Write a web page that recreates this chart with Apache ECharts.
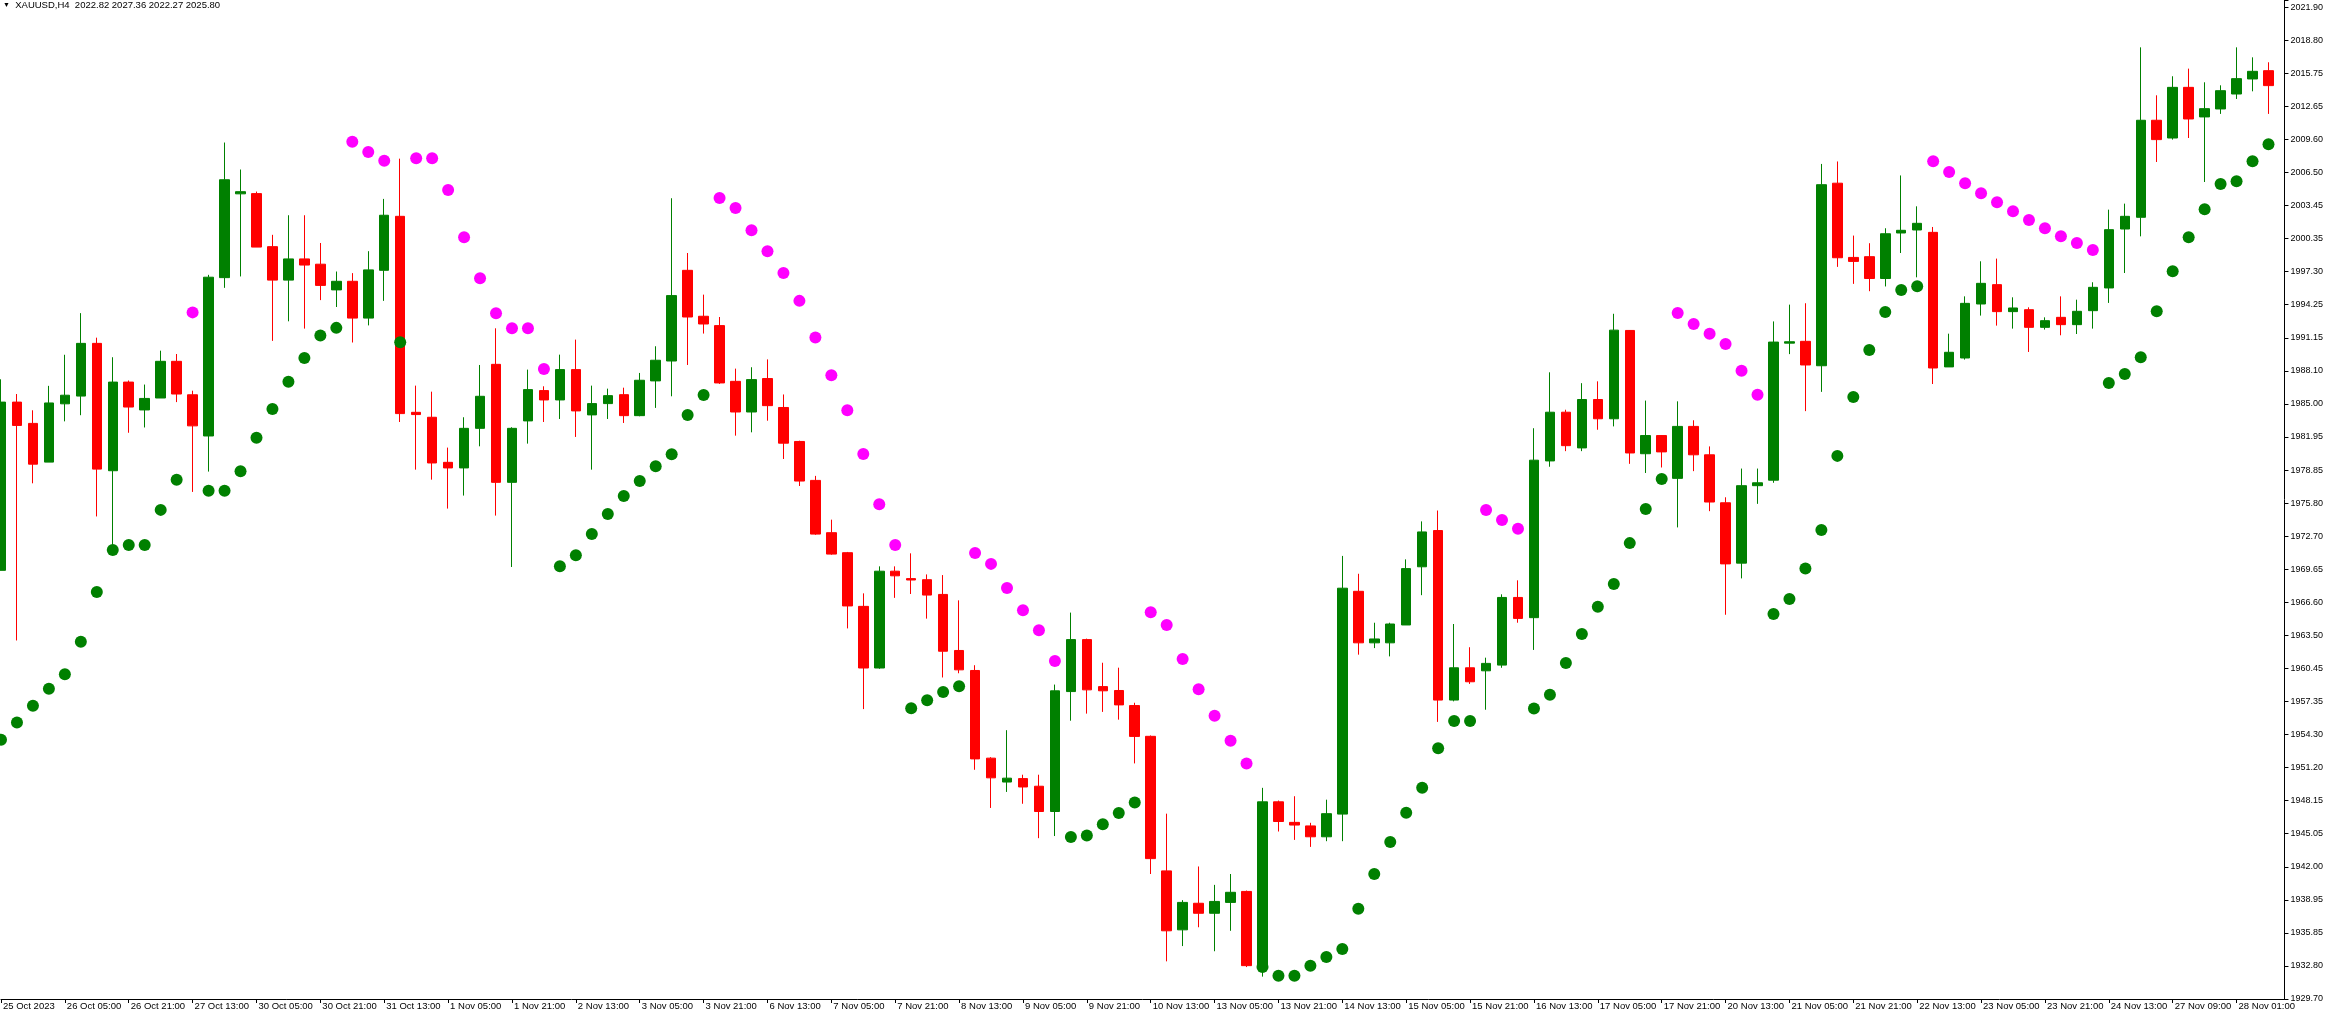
<!DOCTYPE html>
<html><head><meta charset="utf-8">
<script src="https://cdn.jsdelivr.net/npm/echarts/dist/echarts.min.js"></script>
<style>html,body{margin:0;padding:0;background:#fff;overflow:hidden}#c{width:2326px;height:1012px}</style>
</head><body><div id="c"></div>
<script>
const _ = null;
const titleText = 'XAUUSD,H4  2022.82 2027.36 2022.27 2025.80';
const xLabels = ['25 Oct 2023','26 Oct 05:00','26 Oct 21:00','27 Oct 13:00','30 Oct 05:00','30 Oct 21:00','31 Oct 13:00','1 Nov 05:00','1 Nov 21:00','2 Nov 13:00','3 Nov 05:00','3 Nov 21:00','6 Nov 13:00','7 Nov 05:00','7 Nov 21:00','8 Nov 13:00','9 Nov 05:00','9 Nov 21:00','10 Nov 13:00','13 Nov 05:00','13 Nov 21:00','14 Nov 13:00','15 Nov 05:00','15 Nov 21:00','16 Nov 13:00','17 Nov 05:00','17 Nov 21:00','20 Nov 13:00','21 Nov 05:00','21 Nov 21:00','22 Nov 13:00','23 Nov 05:00','23 Nov 21:00','24 Nov 13:00','27 Nov 09:00','28 Nov 01:00'];
const yTickLabels = ['1929.70','1932.80','1935.85','1938.95','1942.00','1945.05','1948.15','1951.20','1954.30','1957.35','1960.45','1963.50','1966.60','1969.65','1972.70','1975.80','1978.85','1981.95','1985.00','1988.10','1991.15','1994.25','1997.30','2000.35','2003.45','2006.50','2009.60','2012.65','2015.75','2018.80','2021.90'];

const openP = [1969.55,1985.19,1983.21,1979.61,1985.03,1985.75,1990.65,1978.81,1987.05,1984.46,
1985.57,1988.98,1985.87,1982.04,1996.76,2004.55,2004.57,1999.64,1996.53,1998.50,
1998.01,1995.62,1996.42,1993.00,1997.44,2002.46,1984.24,1983.78,1979.59,1979.07,
1982.75,1988.70,1977.73,1983.44,1986.26,1985.39,1988.21,1984.00,1985.05,1985.88,
1983.93,1987.16,1989.01,1997.44,1993.17,1992.30,1987.12,1984.27,1987.38,1984.69,
1981.53,1977.91,1973.05,1971.19,1966.20,1960.47,1969.47,1968.78,1968.68,1967.31,
1962.10,1960.24,1952.09,1949.87,1950.19,1949.48,1947.13,1958.28,1963.11,1958.74,
1958.38,1956.98,1954.12,1941.61,1936.13,1938.60,1937.67,1938.68,1939.70,1932.59,
1948.03,1946.12,1945.79,1944.78,1946.89,1967.60,1962.81,1962.81,1964.47,1969.88,
1973.25,1957.49,1960.49,1960.21,1960.74,1967.03,1965.15,1979.72,1984.25,1980.93,
1985.43,1983.64,1991.85,1980.39,1982.08,1978.10,1982.93,1980.29,1975.83,1970.22,
1977.42,1977.93,1990.67,1990.84,1988.57,2005.54,1998.64,1998.71,1996.68,2000.91,
2001.19,2000.97,1988.46,1989.29,1994.31,1996.11,1993.60,1993.78,1992.14,1993.07,
1992.39,1993.69,1995.80,2001.28,2002.37,2011.39,2009.74,2014.45,2011.70,2012.44,
2013.83,2015.23,2016.00];

const highP = [1987.31,1985.94,1984.43,1986.70,1989.59,1993.46,1991.18,1989.36,1987.20,1986.82,
1989.97,1989.66,1986.25,1997.02,2009.32,2006.81,2004.76,2000.74,2002.56,2002.56,
1999.98,1997.33,1997.18,1999.22,2004.08,2007.82,1986.72,1986.16,1980.96,1983.78,
1988.64,1992.05,1982.85,1988.21,1986.66,1989.60,1991.00,1986.72,1986.44,1986.53,
1987.90,1990.38,2004.14,1999.05,1995.18,1993.10,1988.30,1988.43,1989.16,1985.90,
1981.60,1978.33,1974.26,1971.26,1967.41,1969.92,1969.92,1971.13,1969.17,1969.11,
1966.76,1960.73,1952.18,1954.69,1950.55,1950.55,1958.93,1965.62,1963.20,1960.96,
1960.50,1957.24,1954.20,1946.93,1938.89,1942.02,1940.31,1941.32,1939.78,1949.33,
1948.15,1948.55,1946.08,1948.23,1970.89,1969.23,1964.68,1964.68,1970.57,1974.10,
1975.11,1964.56,1962.40,1961.43,1967.32,1968.62,1982.76,1987.96,1984.48,1986.95,
1987.12,1993.40,1991.88,1985.33,1982.10,1985.26,1983.50,1981.07,1976.34,1979.01,
1979.01,1992.69,1994.25,1994.38,2007.33,2007.56,2000.67,1999.96,2001.35,2006.26,
2003.39,2001.47,1991.55,1995.02,1998.28,1998.53,1994.93,1994.00,1993.07,1995.02,
1994.71,1996.33,2003.08,2003.64,2018.17,2013.71,2015.48,2016.19,2014.92,2014.64,
2018.17,2017.24,2016.78];

const lowP = [1969.55,1963.03,1977.64,1979.61,1983.40,1983.97,1974.56,1971.83,1982.34,1982.83,
1985.57,1985.19,1976.84,1978.73,1995.81,1996.87,1999.60,1990.88,1992.70,1992.02,
1994.67,1994.03,1990.73,1992.32,1994.60,1983.34,1978.91,1977.98,1975.29,1976.50,
1981.08,1974.64,1969.86,1981.33,1983.34,1983.62,1981.95,1978.91,1983.62,1983.25,
1983.87,1984.65,1985.73,1988.64,1991.56,1986.88,1982.07,1982.38,1983.46,1979.90,
1977.39,1972.85,1971.00,1964.15,1956.65,1960.40,1966.99,1967.35,1965.06,1959.59,
1959.98,1951.01,1947.46,1948.95,1947.85,1944.65,1944.85,1955.57,1956.23,1956.39,
1955.67,1951.60,1941.32,1933.20,1934.62,1936.37,1934.14,1936.04,1932.67,1931.78,
1945.27,1944.49,1943.84,1944.37,1944.37,1961.71,1962.32,1961.55,1964.47,1967.24,
1955.46,1957.37,1958.99,1956.59,1960.49,1964.68,1962.15,1979.18,1980.63,1980.63,
1982.62,1982.93,1979.45,1978.60,1979.11,1973.54,1978.77,1975.05,1965.42,1968.80,
1975.73,1977.69,1989.65,1984.35,1986.14,1997.76,1996.18,1995.50,1995.94,1999.05,
1996.79,1986.87,1988.46,1989.14,1993.23,1992.30,1992.02,1989.85,1991.93,1991.40,
1991.52,1992.02,1994.41,1997.19,2000.60,2007.51,2009.59,2009.74,2005.65,2011.98,
2013.37,2014.08,2011.98];

const closeP = [1985.19,1983.02,1979.42,1985.11,1985.83,1990.65,1978.96,1987.05,1984.73,1985.53,
1988.98,1985.94,1982.98,1996.80,2005.86,2004.75,1999.60,1996.53,1998.50,1997.93,
1996.04,1996.42,1993.00,1997.48,2002.56,1984.12,1984.03,1979.53,1979.07,1982.75,
1985.73,1977.73,1982.75,1986.35,1985.39,1988.21,1984.37,1985.05,1985.79,1983.93,
1987.22,1989.08,1995.09,1993.10,1992.45,1986.97,1984.27,1987.28,1984.86,1981.37,
1977.85,1972.92,1971.06,1966.24,1960.47,1969.47,1969.04,1968.65,1967.25,1962.03,
1960.30,1952.02,1950.26,1950.23,1949.41,1947.13,1958.35,1963.11,1958.44,1958.35,
1957.04,1954.11,1942.75,1936.04,1938.68,1937.67,1938.77,1939.62,1932.80,1948.03,
1946.20,1945.87,1944.78,1946.93,1967.89,1962.81,1963.17,1964.56,1969.71,1973.12,
1957.49,1960.49,1959.19,1960.90,1967.03,1965.08,1979.79,1984.25,1981.14,1985.43,
1983.64,1991.88,1980.46,1982.08,1980.56,1982.93,1980.29,1975.90,1970.15,1977.42,
1977.69,1990.77,1990.80,1988.64,2005.40,1998.61,1998.27,1996.68,2000.84,2001.16,
2001.81,1988.36,1989.82,1994.37,1996.23,1993.60,1993.94,1992.14,1992.76,1992.39,
1993.63,1995.86,2001.22,2002.46,2011.39,2009.59,2014.45,2011.51,2012.47,2014.14,
2015.26,2015.94,2014.61];

// Parabolic SAR below price (green)
const sarBelow = [1953.81,1955.40,1956.96,1958.55,1959.88,1962.91,1967.54,1971.45,1971.90,1971.90,
1975.17,1977.98,_,1976.95,1976.95,1978.77,1981.88,1984.54,1987.08,1989.28,
1991.37,1992.09,_,_,_,1990.75,_,_,_,_,
_,_,_,_,_,1969.92,1970.95,1972.93,1974.79,1976.46,
1977.86,1979.22,1980.34,1983.99,1985.85,_,_,_,_,_,
_,_,_,_,_,_,_,1956.72,1957.47,1958.25,
1958.77,_,_,_,_,_,_,1944.75,1944.91,1945.95,
1947.00,1947.97,_,_,_,_,_,_,_,1932.67,
1931.86,1931.86,1932.80,1933.61,1934.34,1938.08,1941.33,1944.29,1947.01,1949.33,
1953.02,1955.54,1955.54,_,_,_,1956.70,1957.99,1960.93,1963.63,
1966.17,1968.29,1972.08,1975.26,1978.03,_,_,_,_,_,
_,1965.49,1966.88,1969.72,1973.30,1980.19,1985.67,1990.03,1993.57,1995.62,
1995.95,_,_,_,_,_,_,_,_,_,
_,_,1986.97,1987.80,1989.35,1993.63,1997.35,2000.51,2003.11,2005.47,
2005.72,2007.57,2009.16];

// Parabolic SAR above price (magenta)
const sarAbove = [_,_,_,_,_,_,_,_,_,_,
_,_,1993.53,_,_,_,_,_,_,_,
_,_,2009.39,2008.44,2007.62,_,2007.85,2007.85,2004.91,2000.51,
1996.70,1993.45,1992.05,1992.05,1988.27,_,_,_,_,_,
_,_,_,_,_,2004.17,2003.24,2001.16,1999.21,1997.20,
1994.60,1991.20,1987.69,1984.43,1980.36,1975.69,1971.91,_,_,_,
_,1971.16,1970.15,1967.90,1965.85,1963.99,1961.12,_,_,_,
_,_,1965.66,1964.47,1961.31,1958.50,1956.03,1953.71,1951.60,_,
_,_,_,_,_,_,_,_,_,_,
_,_,_,1975.16,1974.22,1973.42,_,_,_,_,
_,_,_,_,_,1993.47,1992.46,1991.55,1990.60,1988.10,
1985.87,_,_,_,_,_,_,_,_,_,
_,2007.57,2006.58,2005.53,2004.60,2003.76,2002.93,2002.12,2001.35,2000.60,
1999.98,1999.33,_,_,_,_,_,_,_,_,
_,_,_];

const FONT = '"Liberation Sans", Arial, sans-serif';
const N = openP.length;
const cats = [];
for (let i = 0; i <= N; i++) cats.push('c' + i);
const candles = openP.map((o, i) => [o, closeP[i], lowP[i], highP[i]]);
const toPts = arr => arr.map((v, i) => (v == null ? null : [i, v])).filter(p => p);

const Y_MIN = parseFloat(yTickLabels[0]);
const Y_STEP = (parseFloat(yTickLabels[yTickLabels.length - 1]) - Y_MIN) / (yTickLabels.length - 1);
const PX_PER_UNIT = 10.757;
const GRID_H = 999;
const Y_MAX = Y_MIN + GRID_H / PX_PER_UNIT;

const chart = echarts.init(document.getElementById('c'), null, {renderer: 'canvas', width: 2326, height: 1012});
chart.setOption({
  animation: false,
  backgroundColor: '#ffffff',
  title: {
    left: 3, top: 0, padding: 0,
    text: '{tri|▼}  ' + titleText,
    textStyle: {fontSize: 9.5, fontWeight: 'normal', color: '#000', fontFamily: FONT,
      rich: {tri: {fontSize: 7, color: '#000', fontFamily: FONT}}}
  },
  grid: {left: 0, right: 40, top: 0, bottom: 1012 - GRID_H, containLabel: false},
  xAxis: {
    type: 'category', data: cats, boundaryGap: false,
    axisLine: {show: true, lineStyle: {color: '#000', width: 1}},
    axisTick: {show: true, interval: i => i % 4 === 0, length: 4, lineStyle: {color: '#000'}},
    axisLabel: {interval: i => i % 4 === 0, formatter: (v, i) => xLabels[i / 4] || '',
      align: 'left', color: '#000', fontSize: 9.5, fontFamily: FONT, margin: 2, padding: [0, 0, 0, 2]},
    splitLine: {show: false}
  },
  yAxis: {
    type: 'value', position: 'right', min: Y_MIN, max: Y_MAX, interval: Y_STEP,
    axisLine: {show: true, lineStyle: {color: '#000', width: 1}},
    axisTick: {show: true, length: 4, lineStyle: {color: '#000'}},
    splitLine: {show: false},
    axisLabel: {color: '#000', fontSize: 9, fontFamily: FONT, margin: 6,
      formatter: v => {
        const k = Math.round((v - Y_MIN) / Y_STEP);
        if (k >= 0 && k < yTickLabels.length && Math.abs(v - (Y_MIN + k * Y_STEP)) < 1e-3) return yTickLabels[k];
        return '';
      }}
  },
  series: [
    {type: 'candlestick', data: candles, barWidth: 10, silent: true,
      itemStyle: {color: '#008000', color0: '#ff0000', borderColor: '#008000', borderColor0: '#ff0000', borderWidth: 1},
      emphasis: {disabled: true}},
    {type: 'scatter', data: toPts(sarBelow), symbol: 'circle', symbolSize: 12, silent: true,
      itemStyle: {color: '#008000', opacity: 1}, emphasis: {disabled: true}},
    {type: 'scatter', data: toPts(sarAbove), symbol: 'circle', symbolSize: 12, silent: true,
      itemStyle: {color: '#ff00ff', opacity: 1}, emphasis: {disabled: true}}
  ]
});
</script>
</body></html>
